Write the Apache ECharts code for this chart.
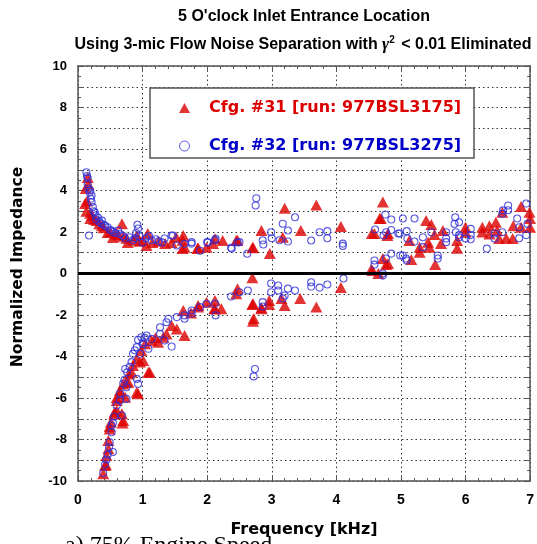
<!DOCTYPE html>
<html>
<head>
<meta charset="utf-8">
<script src="https://cdn.jsdelivr.net/npm/echarts@6/dist/echarts.min.js"></script>
<style>
html,body{margin:0;padding:0;background:#fff;}
#c{width:537px;height:544px;}
</style>
</head>
<body>
<div id="c"></div>
<script>
// ---- data (frequency kHz, normalized impedance) ----
var xTicks = [0, 1, 2, 3, 4, 5, 6, 7];
var yTicks = [-10, -8, -6, -4, -2, 0, 2, 4, 6, 8, 10];
var seriesNames = ['Cfg. #31 [run: 977BSL3175]', 'Cfg. #32 [run: 977BSL3275]'];

var cfg31Positive = [
[0.15,4.63],[0.16,4.3],[0.12,4.1],[0.14,3.5],[0.11,3.37],[0.13,3.0],[0.19,2.9],[0.22,2.8],[0.19,2.65],[0.25,2.6],
[0.29,2.55],[0.33,2.4],[0.37,2.3],[0.4,2.2],[0.46,1.98],[0.5,2.0],[0.54,1.74],[0.58,1.9],[0.62,1.85],[0.68,2.4],
[0.7,1.8],[0.75,1.7],[0.77,1.5],[0.85,1.6],[0.91,1.83],[0.95,1.55],[1.0,1.6],[1.06,1.35],[1.08,1.93],[1.15,1.5],
[1.25,1.55],[1.35,1.45],[1.45,1.5],[1.52,1.75],[1.62,1.6],[1.62,1.2],[1.63,1.83],[1.65,1.27],[1.85,1.2],[1.86,1.24],
[1.99,1.27],[2.09,1.44],[2.12,1.67],[2.24,1.59],[2.45,1.59],[2.47,1.6],[2.7,1.24],[2.71,1.27],[2.84,2.07],[2.97,0.96],
[3.2,3.15],[3.17,1.75],[3.45,2.07],[3.69,3.3],[4.07,2.27],[4.55,1.93],[4.72,3.44],[4.69,2.65],[4.67,2.65],[4.8,1.93],
[4.59,1.93],[4.79,1.83],[4.72,0.72],[4.8,0.48],[4.77,0.43],[4.56,0.14],[4.54,0.19],[4.65,0.0],[5.16,0.67],[5.29,1.03],
[5.29,1.27],[5.13,1.59],[5.39,2.55],[5.47,2.36],[5.44,1.27],[5.52,1.88],[5.42,1.51],[5.62,1.44],[5.65,2.07],[5.53,0.43],
[5.87,1.22],[5.87,1.59],[6.0,2.23],[6.0,1.99],[6.26,2.23],[6.26,2.0],[6.37,2.3],[6.37,1.9],[6.47,2.47],[6.49,2.07],
[6.52,1.69],[6.63,1.7],[6.73,1.69],[6.74,2.3],[6.57,2.95],[6.86,3.23],[6.99,2.95],[7.0,2.65],[7.0,2.23],[6.86,2.23]
];
var cfg31Negative = [
[0.39,-9.65],[0.42,-9.25],[0.43,-9.2],[0.44,-8.77],[0.47,-8.45],[0.47,-8.05],[0.49,-7.49],[0.49,-7.37],[0.51,-7.17],[0.56,-6.76],
[0.57,-6.68],[0.6,-6.6],[0.68,-6.76],[0.7,-7.08],[0.69,-7.2],[0.6,-6.12],[0.6,-5.97],[0.65,-5.64],[0.65,-5.8],[0.73,-5.96],
[0.7,-5.32],[0.75,-5.24],[0.78,-5.24],[0.79,-4.84],[0.83,-4.76],[0.93,-5.8],[0.91,-5.72],[1.09,-4.76],[0.85,-4.43],[0.91,-4.11],
[0.96,-4.27],[1.01,-4.19],[1.11,-4.76],[0.98,-3.71],[1.04,-3.39],[1.14,-3.23],[1.2,-3.1],[1.24,-3.31],[1.32,-3.07],[1.37,-2.91],
[1.45,-2.5],[1.53,-2.67],[1.65,-2.99],[1.63,-1.78],[1.75,-1.9],[1.86,-1.54],[1.86,-1.62],[1.99,-1.38],[2.12,-1.7],[2.22,-1.7],
[2.12,-1.3],[2.11,-1.7],[2.71,-1.46],[2.71,-2.3],[2.84,-1.7],[2.7,-0.21],[2.47,-0.73],[2.45,-0.97],[2.7,-1.49],[2.84,-1.65],
[2.96,-1.3],[2.96,-1.49],[3.15,-1.2],[3.2,-1.54],[3.44,-1.2],[3.69,-1.62],[4.07,-0.68],[2.72,-2.17]
];
var cfg32Positive = [
[0.13,4.88],[0.14,4.7],[0.15,4.6],[0.15,4.3],[0.16,4.1],[0.19,4.0],[0.18,3.9],[0.21,3.76],[0.2,3.6],[0.21,3.44],
[0.23,3.2],[0.24,3.0],[0.26,2.95],[0.27,2.8],[0.31,2.7],[0.28,2.6],[0.37,2.55],[0.33,2.5],[0.36,2.4],[0.4,2.35],
[0.42,2.3],[0.46,2.23],[0.5,2.1],[0.52,2.07],[0.55,2.0],[0.58,1.95],[0.62,2.07],[0.65,1.9],[0.7,1.8],[0.73,1.69],
[0.8,1.75],[0.85,1.6],[0.88,1.7],[0.9,1.95],[0.93,2.17],[0.92,2.35],[0.95,1.8],[1.0,1.5],[1.05,1.7],[1.1,1.8],
[1.14,1.6],[1.2,1.65],[1.25,1.55],[1.3,1.5],[1.34,1.69],[1.45,1.83],[1.47,1.83],[1.53,1.35],[0.17,1.83],[1.65,1.43],
[1.76,1.51],[1.76,1.44],[1.89,1.1],[2.0,1.51],[2.01,1.5],[2.12,1.6],[2.13,1.67],[2.37,1.24],[2.38,1.2],[2.47,1.5],
[2.5,1.51],[2.62,0.95],[2.76,3.63],[2.75,3.28],[2.86,1.6],[2.87,1.4],[2.99,1.99],[3.0,1.7],[3.12,1.6],[3.17,2.4],
[3.25,2.07],[3.25,1.54],[3.36,2.71],[3.61,1.59],[3.74,1.99],[3.86,2.04],[3.86,1.7],[4.1,1.44],[4.1,1.33],[4.6,2.12],
[4.76,2.84],[4.85,2.6],[4.77,1.99],[4.85,2.1],[5.03,2.65],[4.98,1.93],[4.59,0.63],[4.59,0.43],[4.77,0.72],[4.85,0.96],
[4.99,0.87],[5.08,0.72],[4.72,0.0],[4.72,-0.1],[4.73,1.83],[4.96,1.93],[5.21,2.65],[5.09,2.04],[5.1,1.69],[5.21,1.54],
[5.34,1.75],[5.34,1.27],[5.47,1.99],[5.57,0.87],[5.57,0.72],[5.7,1.99],[5.7,1.69],[5.7,1.51],[5.84,2.71],[5.83,2.39],
[5.9,2.47],[5.85,1.99],[5.9,1.85],[5.9,1.75],[6.0,1.69],[6.08,2.15],[6.08,1.85],[6.08,1.65],[6.33,1.2],[6.45,1.93],
[6.45,1.69],[6.57,1.99],[6.57,2.88],[6.58,3.04],[6.66,3.28],[6.66,3.05],[6.8,2.65],[6.83,2.23],[6.83,1.7],[6.94,3.37],
[6.96,2.39],[6.94,1.85],[5.03,0.87],[5.09,0.63]
];
var cfg32Negative = [
[0.39,-9.62],[0.42,-9.2],[0.44,-8.97],[0.46,-8.73],[0.48,-8.37],[0.49,-8.13],[0.54,-8.6],[0.52,-7.65],[0.52,-7.33],[0.54,-7.2],
[0.56,-6.89],[0.6,-6.36],[0.65,-6.12],[0.68,-6.84],[0.65,-5.78],[0.72,-5.12],[0.73,-4.6],[0.75,-5.48],[0.75,-6.04],[0.76,-4.76],
[0.7,-5.3],[0.8,-4.5],[0.83,-4.27],[0.85,-3.87],[0.88,-3.7],[0.91,-3.55],[0.93,-3.2],[0.98,-3.07],[1.0,-3.4],[1.03,-3.1],
[1.06,-2.99],[1.01,-3.31],[0.96,-3.87],[0.93,-5.32],[0.91,-5.08],[1.09,-3.63],[1.14,-3.15],[1.27,-2.91],[1.27,-2.59],[1.34,-3.23],
[1.37,-2.35],[1.4,-2.18],[1.45,-3.52],[1.53,-2.1],[1.65,-2.02],[1.65,-2.18],[1.76,-1.78],[1.76,-1.93],[1.89,-1.62],[1.99,-1.46],
[2.13,-2.02],[2.12,-1.46],[2.74,-4.6],[2.72,-4.96],[2.37,-1.11],[2.5,-0.9],[2.63,-0.82],[2.99,-0.48],[3.1,-0.58],[3.1,-0.82],
[3.25,-0.73],[3.36,-0.82],[3.61,-0.42],[3.61,-0.63],[3.74,-0.68],[3.86,-0.53],[4.11,-0.24],[2.86,-1.38],[2.86,-1.59],[2.99,-0.9],
[3.2,-1.06],[3.17,-1.2]
];

var RED = '#dd0000';
var BLUE = '#3030d8';
var BLUE_TXT = '#0000c8';
var gridDash = {color:'#333', width:1, type:[1.5,3]};
var tickFont = {fontFamily:'Liberation Sans, Arial, sans-serif', fontWeight:'bold', color:'#000'};

var chart = echarts.init(document.getElementById('c'), null, {renderer:'canvas'});
var axisCommon = {
  type:'value', min:0, max:7, interval:1,
  axisLine:{show:true, onZero:false, lineStyle:{color:'#555', width:1.5}},
  axisTick:{show:true, inside:true, length:6, lineStyle:{color:'#555'}},
  minorTick:{show:true, splitNumber:5, length:3, lineStyle:{color:'#555'}}
};
chart.setOption({
  animation:false,
  backgroundColor:'#fff',
  grid:{left:78, right:6, top:66, bottom:63, containLabel:false},
  xAxis:[
    Object.assign({}, axisCommon, {
      position:'bottom',
      axisLabel:Object.assign({margin:12, fontSize:14, formatter:function(v){return xTicks.indexOf(v)>=0 ? String(v) : '';}}, tickFont),
      splitLine:{show:true, lineStyle:gridDash}
    }),
    Object.assign({}, axisCommon, {
      position:'top', axisLabel:{show:false}, splitLine:{show:false}
    })
  ],
  yAxis:[
    {
      type:'value', min:-10, max:10, interval:1, position:'left',
      axisLine:{show:true, onZero:false, lineStyle:{color:'#555', width:1.5}},
      axisTick:{show:true, inside:true, length:6, lineStyle:{color:'#555'}},
      minorTick:{show:true, splitNumber:2, length:3, lineStyle:{color:'#555'}},
      axisLabel:Object.assign({margin:11, fontSize:13, formatter:function(v){return yTicks.indexOf(v)>=0 ? String(v) : '';}}, tickFont),
      splitLine:{show:true, lineStyle:gridDash}
    },
    {
      type:'value', min:-10, max:10, interval:1, position:'right',
      axisLine:{show:true, onZero:false, lineStyle:{color:'#555', width:1.5}},
      axisTick:{show:true, inside:true, length:6, lineStyle:{color:'#555'}},
      minorTick:{show:true, splitNumber:2, length:3, lineStyle:{color:'#555'}},
      axisLabel:{show:false}, splitLine:{show:false}
    }
  ],
  legend:{
    z:20,
    left:174, top:95, orient:'vertical', itemGap:22,
    itemWidth:11, itemHeight:10,
    data:[
      {name:seriesNames[0], icon:'triangle', textStyle:{color:RED}},
      {name:seriesNames[1], icon:'circle', itemStyle:{color:'#fff', borderColor:BLUE, borderWidth:1}, textStyle:{color:BLUE_TXT}}
    ],
    textStyle:{fontFamily:'DejaVu Sans, Verdana, sans-serif', fontWeight:'bold', fontSize:16, padding:[0,0,0,14]},
    selectedMode:false
  },
  graphic:[
    {type:'rect', z:10, shape:{x:150, y:88, width:324, height:70}, style:{fill:'#fff', stroke:'#555', lineWidth:1.5}},
    {type:'text', x:304, y:17, style:{text:"5 O'clock Inlet Entrance Location", font:'bold 16px "Liberation Sans", Arial, sans-serif', fill:'#000', align:'center', verticalAlign:'middle'}},
    {type:'text', x:303, y:45, style:{
      text:'{a|Using 3-mic Flow Noise Separation with }{g|γ}{s|2}{a| < 0.01 Eliminated}',
      align:'center', verticalAlign:'middle',
      rich:{
        a:{font:'bold 16px "Liberation Sans", Arial, sans-serif', fill:'#000'},
        g:{font:'italic bold 17px "Liberation Serif", serif', fill:'#000'},
        s:{font:'bold 10px "Liberation Sans", Arial, sans-serif', fill:'#000', verticalAlign:'top', padding:[0,2,9,0]}
      }
    }},
    {type:'text', x:18, y:267, rotation:Math.PI/2, style:{text:'Normalized Impedance', font:'bold 15.5px "DejaVu Sans", Verdana, sans-serif', fill:'#000', align:'center', verticalAlign:'middle'}},
    {type:'text', x:65, y:534, z:1, style:{text:'a) 75% Engine Speed', font:'24px "Liberation Serif", "Times New Roman", serif', fill:'#000', align:'left', verticalAlign:'top'}},
    {type:'text', x:304, y:530, z:5, style:{text:'Frequency [kHz]', font:'bold 16px "DejaVu Sans", Verdana, sans-serif', fill:'#000', align:'center', verticalAlign:'middle'}}
  ],
  series:[
    {
      name:seriesNames[0], type:'scatter', symbol:'triangle', symbolSize:[12,11],
      itemStyle:{color:RED},
      data:cfg31Positive.concat(cfg31Negative),
      markLine:{silent:true, symbol:'none', label:{show:false}, lineStyle:{color:'#000', width:3, type:'solid'}, data:[{yAxis:0}]},
      z:3
    },
    {
      name:seriesNames[1], type:'scatter', symbol:'circle', symbolSize:7,
      itemStyle:{color:'rgba(255,255,255,0)', borderColor:BLUE, borderWidth:1.1},
      data:cfg32Positive.concat(cfg32Negative),
      z:4
    }
  ]
});
</script>
</body>
</html>
